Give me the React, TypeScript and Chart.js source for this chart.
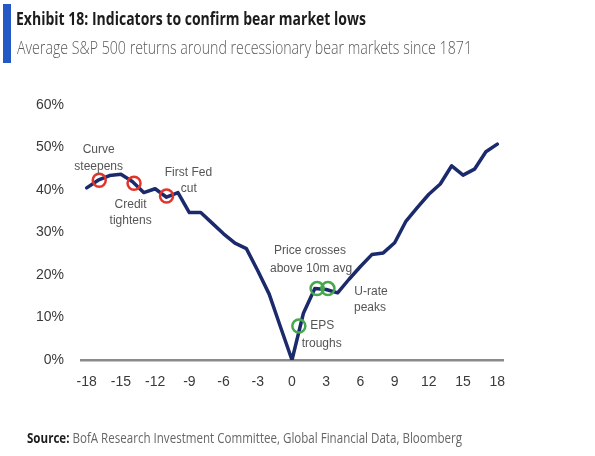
import React, { useEffect, useLayoutEffect, useRef } from "react";
import { Chart, registerables } from "chart.js";

Chart.register(...registerables);

// ---- data ----
const months = [-18, -17, -16, -15, -14, -13, -12, -11, -10, -9, -8, -7, -6, -5, -4, -3, -2, -1, 0, 1, 2, 3, 4, 5, 6, 7, 8, 9, 10, 11, 12, 13, 14, 15, 16, 17, 18];
const avgReturns = [40.5, 42.3, 43.4, 43.7, 42.0, 39.4, 40.3, 38.3, 39.4, 34.7, 34.7, 32.2, 29.7, 27.5, 26.2, 21.0, 15.5, 7.7, 0.0, 11.0, 16.8, 16.6, 15.8, 19.0, 22.0, 24.8, 25.2, 27.6, 32.7, 35.9, 39.0, 41.4, 45.7, 43.5, 44.9, 49.0, 50.8];

const xTicks = [-18, -15, -12, -9, -6, -3, 0, 3, 6, 9, 12, 15, 18];
const yTicks = [0, 10, 20, 30, 40, 50, 60];

// bear-market signals (red) and bottom-confirming indicators (green)
const redX = [-16.9, -13.85, -11.0];
const redY = [42.3, 41.6, 38.6];
const greenX = [0.6, 2.2, 3.15];
const greenY = [8.0, 16.8, 16.8];

// annotation labels (anchored in data units)
const noteText = ["Curve", "steepens", "Credit", "tightens", "First Fed", "cut", "Price crosses", "above 10m avg", "U-rate", "peaks", "EPS", "troughs"];
const noteX = [-16.95, -16.95, -14.15, -14.15, -9.08, -9.05, 1.58, 1.67, 6.93, 6.84, 2.66, 2.6];
const noteY = [49.4, 45.5, 36.6, 32.8, 44.1, 40.2, 25.7, 21.6, 16.1, 12.2, 8.0, 3.9];

const TITLE = "Exhibit 18: Indicators to confirm bear market lows";
const SUBTITLE = "Average S&P 500 returns around recessionary bear markets since 1871";
const SOURCE_LABEL = "Source:";
const SOURCE_TEXT = " BofA Research Investment Committee, Global Financial Data, Bloomberg";

const annotationPlugin = {
  id: "notes",
  afterDatasetsDraw(chart: any) {
    const { ctx, scales } = chart;
    ctx.save();
    ctx.font = '12px "Liberation Sans", Arial, sans-serif';
    ctx.fillStyle = "#555555";
    ctx.textAlign = "center";
    ctx.textBaseline = "middle";
    noteText.forEach((t, i) => {
      ctx.fillText(t, scales.x.getPixelForValue(noteX[i]), scales.y.getPixelForValue(noteY[i]));
    });
    ctx.restore();
  },
};

function FitText({ width, style, children }: { width: number; style: any; children: any }) {
  const ref = useRef<HTMLDivElement>(null);
  useLayoutEffect(() => {
    const el = ref.current;
    if (!el) return;
    el.style.transform = "none";
    const w = el.getBoundingClientRect().width;
    if (w > 0) el.style.transform = `scaleX(${width / w})`;
  }, [width]);
  return (
    <div
      ref={ref}
      style={{ position: "absolute", whiteSpace: "nowrap", transformOrigin: "0 0", lineHeight: 1, ...style }}
    >
      {children}
    </div>
  );
}

export default function App() {
  const canvasRef = useRef<HTMLCanvasElement>(null);

  useEffect(() => {
    document.body.style.margin = "0";
    const canvas = canvasRef.current;
    if (!canvas) return;
    const chart = new Chart(canvas, {
      type: "line",
      data: {
        datasets: [
          {
            type: "scatter",
            data: redX.map((x, i) => ({ x, y: redY[i] })),
            pointRadius: 6.5,
            pointBorderWidth: 2.5,
            pointBorderColor: "#e3342c",
            pointBackgroundColor: "rgba(0,0,0,0)",
            showLine: false,
            order: 1,
          } as any,
          {
            type: "scatter",
            data: greenX.map((x, i) => ({ x, y: greenY[i] })),
            pointRadius: 6.5,
            pointBorderWidth: 2.5,
            pointBorderColor: "#45a84b",
            pointBackgroundColor: "rgba(0,0,0,0)",
            showLine: false,
            order: 1,
          } as any,
          {
            type: "line",
            data: months.map((m, i) => ({ x: m, y: avgReturns[i] })),
            borderColor: "#1a2a6c",
            borderWidth: 3.5,
            pointRadius: 0,
            tension: 0,
            borderJoinStyle: "round",
            borderCapStyle: "round",
            fill: false,
            order: 2,
          } as any,
        ],
      },
      options: {
        animation: false,
        responsive: false,
        maintainAspectRatio: false,
        devicePixelRatio: 1,
        layout: { padding: { top: 105, right: 92, bottom: 56, left: 0 } },
        plugins: {
          legend: { display: false },
          tooltip: { enabled: false },
          title: { display: false },
        },
        scales: {
          x: {
            type: "linear",
            min: -18.5,
            max: 18.5,
            afterBuildTicks: (s: any) => {
              s.ticks = xTicks.map((v) => ({ value: v }));
            },
            afterFit: (s: any) => {
              s.height = 40;
            },
            grid: { display: false, drawTicks: false },
            border: { display: true, color: "#8a8a8a", width: 2.5 },
            ticks: {
              padding: 14,
              color: "#3a3a3a",
              autoSkip: false,
              maxRotation: 0,
              font: { family: '"Liberation Sans", Arial, sans-serif', size: 14 },
              callback: (v: any) => String(v),
            },
          },
          y: {
            type: "linear",
            min: 0,
            max: 60,
            afterBuildTicks: (s: any) => {
              s.ticks = yTicks.map((v) => ({ value: v }));
            },
            afterFit: (s: any) => {
              s.width = 81;
            },
            grid: { display: false, drawTicks: false },
            border: { display: false },
            ticks: {
              padding: 17,
              color: "#3a3a3a",
              font: { family: '"Liberation Sans", Arial, sans-serif', size: 14 },
              callback: (v: any) => v + "%",
            },
          },
        },
      } as any,
      plugins: [annotationPlugin],
    });
    return () => chart.destroy();
  }, []);

  return (
    <div style={{ position: "absolute", left: 0, top: 0, width: 595, height: 456, background: "#ffffff", overflow: "hidden" }}>
      <canvas ref={canvasRef} width={595} height={456} style={{ position: "absolute", left: 0, top: 0, width: 595, height: 456 }} />
      <div style={{ position: "absolute", left: 3, top: 4, width: 8, height: 59, background: "#2458c4" }} />
      <FitText
        width={350}
        style={{ left: 16, top: 9, fontFamily: '"Open Sans", sans-serif', fontWeight: 700, fontSize: 18.5, color: "#1c1c1c" }}
      >
        {TITLE}
      </FitText>
      <FitText
        width={455}
        style={{ left: 17, top: 37.5, fontFamily: '"Open Sans", sans-serif', fontWeight: 300, fontSize: 19, color: "#5a5a5a" }}
      >
        {SUBTITLE}
      </FitText>
      <FitText
        width={435}
        style={{ left: 27, top: 431, fontFamily: '"Open Sans", sans-serif', fontSize: 14, color: "#666666" }}
      >
        <span style={{ fontWeight: 700, color: "#1c1c1c" }}>{SOURCE_LABEL}</span>
        {SOURCE_TEXT}
      </FitText>
    </div>
  );
}
